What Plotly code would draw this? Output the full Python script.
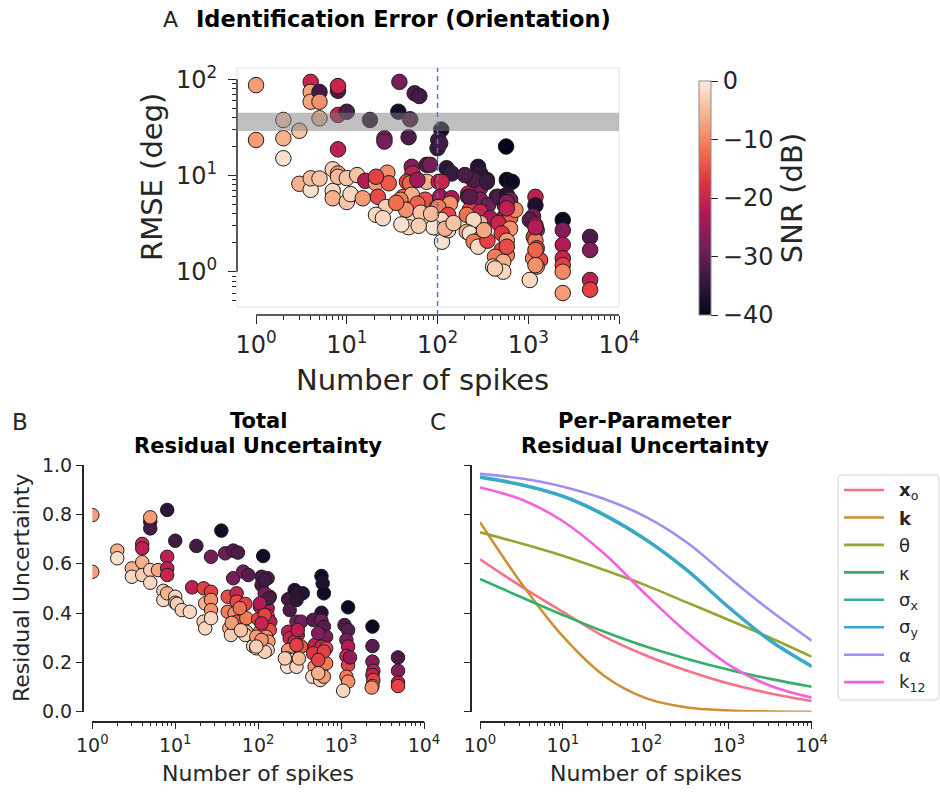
import math
import plotly.graph_objects as go

W, H = 940, 792
FONT = "DejaVu Sans"


def fx(x):
    return x / W


def fy(y):
    return 1 - y / H


# ---------------- Panel A: identification error (orientation) ----------------
a_spikes = [1, 1, 2, 2, 2, 3, 4, 4, 4, 5, 5, 5, 8, 8, 8, 10, 8, 18, 26, 26,
            38, 37, 48, 50, 56, 63, 110, 102, 100,
            3, 4, 4, 5, 7, 7, 7, 8, 8, 10, 10, 11, 13, 15, 16, 21, 28, 22, 27, 21, 25, 29, 21,
            52, 76, 53, 46, 50, 76, 103, 42, 52, 73, 99, 53, 47, 48, 70, 95, 117, 112, 39, 60,
            107, 126, 143, 83, 111, 107, 143, 137, 102, 131, 110, 90, 131, 121,
            60, 45, 65, 35, 85, 150, 40, 62,
            280, 295, 238, 350, 295, 218, 218, 295, 450, 360, 227, 295, 380, 210, 295, 250,
            210, 227, 295, 250, 280, 355, 325, 250, 350, 227, 470, 200,
            570, 580, 660, 580, 630, 550, 660, 550, 630, 470, 630, 510, 580, 510, 580, 430,
            530, 410, 530, 720, 580, 580, 580, 430,
            1200, 1200, 1130, 1040, 1200, 1240, 1150, 1200, 1240, 1130, 1350, 1240, 1040,
            1200, 1200, 1200,
            2400, 2400, 2400, 2400, 2400, 2400, 2400,
            4800, 4800, 4800, 4800]
a_rmse = [87, 23.4, 37.8, 24.4, 15.1, 29.2, 94, 74, 58.5, 74, 58.5, 39.3, 76, 85, 42.6, 46, 18.7, 37.8, 24.4, 22.5,
          94, 46, 25, 38.4, 71.5, 67, 30, 23.4, 19.2,
          8.2, 7.1, 9.35, 9.3, 11.6, 6.9, 5.8, 10.5, 9.7, 9.4, 5.3, 6.4, 10.1, 5.8, 8.8, 8.3, 10.7, 6.0, 4.7, 3.9, 3.6, 8.3, 9.7,
          12.3, 12.9, 10.5, 8.6, 8.3, 8.6, 8.6, 6.0, 6.3, 5.6, 4.7, 4.05, 3.45, 2.9, 3.3, 2.9, 2.6, 2.05, 5.6, 5.1,
          21.6, 11.9, 10.5, 12.9, 8.6, 6.0, 5.8, 5.1, 4.7, 3.9, 3.45, 2.9, 2.7, 2.8,
          9.0, 4.4, 4.1, 5.2, 4.0, 3.2, 3.1, 3.0,
          12.3, 10.5, 9.35, 9.0, 7.4, 6.5, 6.0, 5.6, 6.0, 4.9, 4.4, 4.2, 3.6, 3.9, 3.2, 3.45,
          2.6, 2.5, 2.2, 2.05, 1.82, 2.1, 2.7, 9.0, 8.6, 6.0, 6.0, 10.1,
          20, 9.0, 8.6, 6.3, 5.6, 4.9, 4.4, 3.75, 3.6, 3.2, 2.8, 2.5, 2.1, 1.68, 1.49, 1.43,
          1.27, 1.13, 1.0, 4.4, 5.3, 4.55, 1.82, 1.08,
          6.0, 4.9, 3.75, 3.45, 3.05, 2.7, 2.3, 2.1, 1.75, 1.38, 1.32, 1.13, 0.82,
          2.9, 1.68, 1.17,
          3.45, 2.7, 1.9, 1.38, 1.17, 1.0, 0.6,
          2.3, 1.68, 0.82, 0.65]
a_snr = [-8, -8, -3, -6, -1, -4, -20, -7, -7, -33, -9, -5, -32, -20, -21, -32, -21, -35, -28, -28,
         -28, -38, -32, -32, -32, -33, -38, -33, -34,
         -6, -1, -5, -4, -3, -2, -6, -8, -5, -4, -4, -2, -4, -8, -22, -8, -9, -15, -3, -2, -2, -14, -16,
         -27, -32, -21, -16, -13, -6, -21, -12, -6, -15, -10, -6, -2, -2, -3, -2, -1, -1, -11, -13,
         -33, -35, -34, -28, -20, -24, -23, -9, -11, -16, -2, -1, -2, -6,
         -24, -9, -4, -12, -5, -4, -1, -3,
         -36, -35, -33, -35, -27, -21, -32, -27, -33, -29, -16, -20, -23, -12, -5, -2,
         -6, -1, -10, -11, -2, -16, -7, -32, -34, -31, -32, -32,
         -40, -39, -39, -36, -28, -31, -21, -25, -13, -20, -9, -17, -8, -15, -10, -11,
         -6, -3, -2, -10, -26, -21, -15, -3,
         -21, -37, -28, -31, -21, -24, -17, -11, -16, -11, -15, -9, -2,
         -22, -13, -9,
         -39, -27, -22, -20, -16, -10, -8,
         -32, -27, -21, -16]
a_band = [29, 45]          # chance-level RMSE band (deg)
a_cutoff = 100             # spike-count reference line
a_xticks = [1, 10, 100, 1000, 10000]
a_yticks = [1, 10, 100]

# ---------------- Panel B: total residual uncertainty ----------------
b_spikes = [1, 1, 2, 2, 3, 3, 4, 4, 4, 4, 5, 5, 5, 5, 5, 6.2, 8, 8, 8, 8, 7.2, 7.2, 8,
            10, 10, 10, 10.5, 12, 15, 16, 18, 22, 23, 22, 23, 27, 27, 27, 27, 27,
            36, 40, 50, 57, 50, 66, 76, 43, 55, 55, 70, 43, 52, 55, 72, 45, 52, 47, 72, 70, 87, 95,
            60, 48, 62,
            115, 110, 130, 110, 138, 120, 105, 130, 130, 100, 140, 138, 105, 125, 133, 130, 120,
            120, 135, 105, 120, 110, 95, 110, 95,
            230, 240, 275, 300, 345, 290, 290, 330, 230, 300, 240, 275, 300, 230, 330, 225, 260,
            225, 290, 310, 210, 300, 290,
            580, 600, 620, 580, 460, 580, 620, 580, 660, 480, 580, 660, 460, 580, 480, 580, 450,
            560, 660, 620, 530, 620, 530, 530,
            1216, 1100, 1216, 1160, 1216, 1160, 1216, 1160, 1216, 1060, 1280,
            2390, 2390, 2390, 2450, 2390, 2450, 2390, 2340,
            4860, 4860, 4860, 4860]
b_unc = [0.797, 0.567, 0.653, 0.622, 0.581, 0.547, 0.68, 0.662, 0.606, 0.554, 0.77, 0.743, 0.788,
         0.574, 0.523, 0.574, 0.818, 0.628, 0.581, 0.554, 0.49, 0.453, 0.48,
         0.693, 0.466, 0.442, 0.437, 0.412, 0.405, 0.504, 0.672, 0.5, 0.439, 0.365, 0.338,
         0.628, 0.486, 0.453, 0.412, 0.379,
         0.734, 0.642, 0.653, 0.645, 0.541, 0.568, 0.554, 0.466, 0.48, 0.446, 0.437, 0.405,
         0.399, 0.365, 0.379, 0.338, 0.338, 0.311, 0.324, 0.311, 0.266, 0.257,
         0.42, 0.36, 0.33,
         0.631, 0.547, 0.541, 0.514, 0.466, 0.48, 0.426, 0.419, 0.388, 0.375, 0.365, 0.331,
         0.324, 0.304, 0.284, 0.25, 0.243,
         0.534, 0.46, 0.439, 0.392, 0.358, 0.304, 0.291, 0.264,
         0.456, 0.412, 0.493, 0.48, 0.48, 0.453, 0.365, 0.365, 0.324, 0.311, 0.298, 0.284,
         0.264, 0.25, 0.264, 0.216, 0.21, 0.182, 0.182, 0.216, 0.216, 0.331, 0.27,
         0.55, 0.52, 0.48, 0.401, 0.372, 0.369, 0.345, 0.311, 0.304, 0.27, 0.264, 0.257,
         0.237, 0.216, 0.182, 0.176, 0.142, 0.128, 0.196, 0.142, 0.318, 0.244, 0.21, 0.156,
         0.423, 0.351, 0.331, 0.291, 0.264, 0.226, 0.189, 0.142, 0.122, 0.085, 0.22,
         0.345, 0.266, 0.203, 0.166, 0.149, 0.128, 0.104, 0.098,
         0.22, 0.166, 0.118, 0.104]
b_snr = [-8, -8, -6, -1, -6, -2, -20, -21, -6, -3, -34, -33, -8, -3, -2, -7, -35, -21, -21, -20, -3, -2, -6,
         -33, -2, -8, -3, -3, -2, -21, -33, -16, -6, -3, -2, -28, -16, -9, -9, -2,
         -38, -29, -31, -32, -28, -28, -31, -15, -20, -15, -16, -11, -9, -14, -11, -6, -5, -3, -6, -2, -2, -1,
         -12, -8, -4,
         -38, -32, -32, -33, -33, -28, -21, -22, -16, -16, -21, -15, -9, -9, -8, -2, -3,
         -33, -32, -22, -16, -20, -8, -9, -3,
         -33, -32, -37, -35, -36, -35, -27, -28, -21, -22, -20, -20, -16, -9, -14, -3, -2,
         -1, -2, -5, -3, -21, -16,
         -38, -37, -38, -36, -31, -28, -31, -27, -28, -21, -20, -16, -17, -13, -9, -7, -2,
         -3, -11, -8, -27, -16, -16, -6,
         -39, -32, -31, -28, -22, -20, -16, -11, -9, -2, -25,
         -39, -31, -27, -22, -21, -16, -11, -9,
         -32, -27, -21, -16]
b_yticks = [0.0, 0.2, 0.4, 0.6, 0.8, 1.0]

# ---------------- Panel C: per-parameter residual uncertainty ----------------
c_spikes = [1, 3.16, 10, 31.6, 100, 316, 1000, 3162, 10000]
c_names = ["<b>x</b><sub>o</sub>", "<b>k</b>", "θ", "κ", "σ<sub>x</sub>", "σ<sub>y</sub>", "α",
           "k<sub>12</sub>"]
c_colors = ["#f77189", "#ce9032", "#97a431", "#32b166", "#36ada4", "#39a7d0", "#a48cf4", "#f561dd"]
c_values = [
    [0.618, 0.507, 0.405, 0.304, 0.228, 0.166, 0.114, 0.074, 0.043],   # x_o
    [0.768, 0.520, 0.305, 0.145, 0.055, 0.017, 0.005, 0.001, 0.000],   # k
    [0.727, 0.682, 0.632, 0.574, 0.512, 0.442, 0.372, 0.300, 0.223],   # theta
    [0.538, 0.464, 0.392, 0.324, 0.264, 0.214, 0.170, 0.133, 0.101],   # kappa
    [0.949, 0.918, 0.871, 0.795, 0.695, 0.570, 0.421, 0.286, 0.182],  # sigma_x
    [0.953, 0.922, 0.875, 0.800, 0.700, 0.575, 0.425, 0.290, 0.186],  # sigma_y
    [0.964, 0.945, 0.912, 0.862, 0.790, 0.685, 0.545, 0.410, 0.288],  # alpha
    [0.909, 0.860, 0.772, 0.640, 0.475, 0.320, 0.190, 0.105, 0.057],  # k12
]

snr_ticks = [0, -10, -20, -30, -40]

rocket = [[0.0, "#03051a"], [1 / 7, "#35193e"], [2 / 7, "#701f57"], [3 / 7, "#ad1759"],
          [4 / 7, "#e13342"], [5 / 7, "#f37651"], [6 / 7, "#f6b48f"], [1.0, "#faebdd"]]


def pow_label(v):
    return "10<sup>%d</sup>" % round(math.log10(v))


def minor_log(lo_exp, hi_exp, start=2):
    vals = []
    for e in range(lo_exp, hi_exp):
        for m in range(start, 10):
            vals.append(m * 10 ** e)
    return vals


fig = go.Figure()

# Panel A scatter with colour bar
fig.add_trace(go.Scatter(
    x=a_spikes, y=a_rmse, mode="markers", xaxis="x", yaxis="y", showlegend=False,
    marker=dict(size=15.5, color=a_snr, colorscale=rocket, cmin=-40, cmax=0,
                line=dict(color="#1e1e1e", width=1.0),
                colorbar=dict(
                    x=fx(699), xanchor="left", xpad=0, ypad=0,
                    y=fy(198), yanchor="middle",
                    len=234, lenmode="pixels", thickness=12, thicknessmode="pixels",
                    outlinecolor="#8c8c8c", outlinewidth=1,
                    tickmode="array", tickvals=snr_ticks,
                    ticktext=[("−%d" % -v) if v < 0 else str(v) for v in snr_ticks],
                    ticks="outside", ticklen=7, tickwidth=1.2, tickcolor="#262626",
                    tickfont=dict(family=FONT, size=24, color="#262626"),
                    title=dict(text="SNR (dB)", side="right",
                               font=dict(family=FONT, size=29, color="#262626")),
                )),
))

# Panel B scatter
fig.add_trace(go.Scatter(
    x=b_spikes, y=b_unc, mode="markers", xaxis="x2", yaxis="y2", showlegend=False,
    marker=dict(size=13.5, color=b_snr, colorscale=rocket, cmin=-40, cmax=0, showscale=False,
                line=dict(color="#1e1e1e", width=1.0)),
))

# Panel C curves
for name, col, vals in zip(c_names, c_colors, c_values):
    fig.add_trace(go.Scatter(
        x=c_spikes, y=vals, mode="lines", xaxis="x3", yaxis="y3", showlegend=False, name=name,
        line=dict(color=col, width=2.6, shape="spline", smoothing=1.0),
    ))

tick_font_a = dict(family=FONT, size=24, color="#262626")
tick_font_b = dict(family=FONT, size=19, color="#262626")

common = dict(showgrid=False, zeroline=False, ticks="outside", tickcolor="#262626",
              tickwidth=1.3)

fig.update_layout(
    width=W, height=H, margin=dict(l=0, r=0, t=0, b=0, autoexpand=False),
    paper_bgcolor="white", plot_bgcolor="white",
    font=dict(family=FONT, color="#262626"),
    xaxis=dict(type="log", domain=[fx(237), fx(619)], range=[-0.21, 4],
               anchor="free", position=fy(315), showline=False,
               tickmode="array", tickvals=a_xticks, ticktext=[pow_label(v) for v in a_xticks],
               ticklen=8, tickfont=tick_font_a,
               minor=dict(tickmode="array", tickvals=minor_log(0, 4), ticks="outside",
                          ticklen=4, tickwidth=1, tickcolor="#262626"),
               **common),
    yaxis=dict(type="log", domain=[fy(307), fy(68)], range=[-0.367, 2.1175],
               anchor="x", showline=False,
               tickmode="array", tickvals=a_yticks, ticktext=[pow_label(v) for v in a_yticks],
               ticklen=8, tickfont=tick_font_a, ticklabelstandoff=6,
               minor=dict(tickmode="array", tickvals=minor_log(-1, 2, start=5)[:5] + minor_log(0, 2),
                          ticks="outside", ticklen=4, tickwidth=1, tickcolor="#262626"),
               **common),
    xaxis2=dict(type="log", domain=[fx(92.3), fx(424)], range=[0, 4],
                anchor="free", position=fy(721.7), showline=True, linecolor="#262626", linewidth=1.5,
                tickmode="array", tickvals=a_xticks, ticktext=[pow_label(v) for v in a_xticks],
                ticklen=7, tickfont=tick_font_b,
                minor=dict(tickmode="array", tickvals=minor_log(0, 4), ticks="outside",
                           ticklen=3.5, tickwidth=1, tickcolor="#262626"),
                **common),
    yaxis2=dict(domain=[fy(711.7), fy(465)], range=[0, 1],
                anchor="free", position=fx(82.7), showline=True, linecolor="#262626", linewidth=1.5,
                tickmode="array", tickvals=b_yticks, ticktext=["%.1f" % v for v in b_yticks],
                ticklen=6, tickfont=tick_font_b,
                **common),
    xaxis3=dict(type="log", domain=[fx(480), fx(811.7)], range=[0, 4],
                anchor="free", position=fy(721.7), showline=True, linecolor="#262626", linewidth=1.5,
                tickmode="array", tickvals=a_xticks, ticktext=[pow_label(v) for v in a_xticks],
                ticklen=7, tickfont=tick_font_b,
                minor=dict(tickmode="array", tickvals=minor_log(0, 4), ticks="outside",
                           ticklen=3.5, tickwidth=1, tickcolor="#262626"),
                **common),
    yaxis3=dict(domain=[fy(711.7), fy(465)], range=[0, 1],
                anchor="free", position=fx(470.7), showline=True, linecolor="#262626", linewidth=1.5,
                tickmode="array", tickvals=b_yticks, showticklabels=False,
                ticklen=6, **common),
)

shapes = []
# light frame around panel A
shapes.append(dict(type="rect", xref="x domain", yref="y domain", x0=0, x1=1, y0=0, y1=1,
                   line=dict(color="#e3e3e3", width=1), layer="below"))
# trimmed spines for panel A (shape coordinates on log axes are data values)
shapes.append(dict(type="line", xref="x", yref="paper",
                   x0=a_xticks[0], x1=a_xticks[-1], y0=fy(315), y1=fy(315),
                   line=dict(color="#262626", width=1.5)))
shapes.append(dict(type="line", xref="x domain", yref="y", x0=0, x1=0,
                   y0=a_yticks[0], y1=a_yticks[-1],
                   line=dict(color="#262626", width=1.5)))
# chance band and reference line on top of the points
shapes.append(dict(type="rect", xref="x domain", yref="y", x0=0, x1=1,
                   y0=a_band[0], y1=a_band[1],
                   fillcolor="rgba(128,128,128,0.5)", line=dict(width=0), layer="above"))
shapes.append(dict(type="line", xref="x", yref="paper", x0=a_cutoff, x1=a_cutoff,
                   y0=fy(315), y1=fy(68), line=dict(color="#2f86eb", width=1.5, dash="5px,4px"),
                   layer="above"))

# legend box for panel C
lx0, lx1, ly0, ly1, r = 838, 939, 475, 700, 4
path = ("M {a},{b} L {c},{b} Q {d},{b} {d},{e} L {d},{f} Q {d},{g} {c},{g} "
        "L {a},{g} Q {h},{g} {h},{f} L {h},{e} Q {h},{b} {a},{b} Z").format(
    a=fx(lx0 + r), b=fy(ly0), c=fx(lx1 - r), d=fx(lx1), e=fy(ly0 + r), f=fy(ly1 - r),
    g=fy(ly1), h=fx(lx0))
shapes.append(dict(type="path", xref="paper", yref="paper", path=path,
                   line=dict(color="#d4d4d4", width=1), fillcolor="rgba(255,255,255,0.8)"))

annotations = []
for i, (name, col) in enumerate(zip(c_names, c_colors)):
    yy = 490 + i * 27.45
    shapes.append(dict(type="line", xref="paper", yref="paper", x0=fx(844), x1=fx(884),
                       y0=fy(yy), y1=fy(yy), line=dict(color=col, width=2.6)))
    annotations.append(dict(text=name, x=fx(897), y=fy(yy + 1), xref="paper", yref="paper",
                            xanchor="left", yanchor="middle", showarrow=False,
                            font=dict(family=FONT, size=18, color="#262626")))


def label(text, x, y, size, angle=0, bold=False, anchor="center"):
    annotations.append(dict(text=("<b>%s</b>" % text) if bold else text,
                            x=fx(x), y=fy(y), xref="paper", yref="paper",
                            xanchor=anchor, yanchor="middle", showarrow=False, textangle=angle,
                            font=dict(family=FONT, size=size, color="#000000" if bold else "#262626")))


# panel letters and titles
label("A", 170, 19, 22)
label("Identification Error (Orientation)", 403, 19, 22.5, bold=True)
label("B", 20, 422, 23)
label("Total", 258, 421, 21, bold=True)
label("Residual Uncertainty", 258, 446, 21, bold=True)
label("C", 438, 422, 23)
label("Per-Parameter", 645, 421, 21, bold=True)
label("Residual Uncertainty", 645, 446, 21, bold=True)

# axis titles
label("RMSE (deg)", 152, 177, 29, angle=-90)
label("Number of spikes", 422, 380, 29)
label("Residual Uncertainty", 21, 588, 22, angle=-90)
label("Number of spikes", 258, 773, 22)
label("Number of spikes", 646, 773, 22)

fig.update_layout(shapes=shapes, annotations=annotations)
fig.write_html("out.html")
